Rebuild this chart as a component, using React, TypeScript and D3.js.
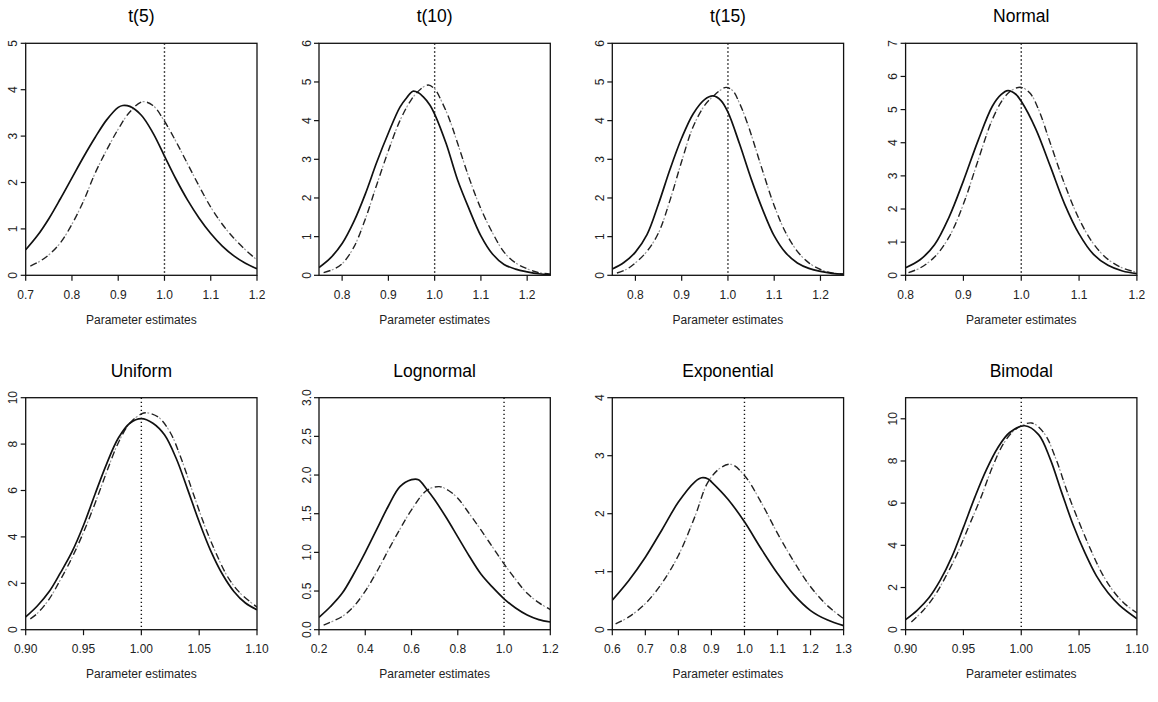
import React from "react";
import * as d3 from "d3";

// ---------- data ----------
const titles = ["t(5)", "t(10)", "t(15)", "Normal", "Uniform", "Lognormal", "Exponential", "Bimodal"];

const xDomains: [number, number][] = [
  [0.7, 1.2], [0.75, 1.25], [0.75, 1.25], [0.8, 1.2],
  [0.9, 1.1], [0.2, 1.2], [0.6, 1.3], [0.9, 1.1],
];
const yDomains: [number, number][] = [
  [0, 5], [0, 6], [0, 6], [0, 7],
  [0, 10], [0, 3], [0, 4], [0, 11],
];
const xTicks: number[][] = [
  [0.7, 0.8, 0.9, 1.0, 1.1, 1.2],
  [0.8, 0.9, 1.0, 1.1, 1.2],
  [0.8, 0.9, 1.0, 1.1, 1.2],
  [0.8, 0.9, 1.0, 1.1, 1.2],
  [0.9, 0.95, 1.0, 1.05, 1.1],
  [0.2, 0.4, 0.6, 0.8, 1.0, 1.2],
  [0.6, 0.7, 0.8, 0.9, 1.0, 1.1, 1.2, 1.3],
  [0.9, 0.95, 1.0, 1.05, 1.1],
];
const xTickFormats = [".1f", ".1f", ".1f", ".1f", ".2f", ".1f", ".1f", ".2f"];
const yTicks: number[][] = [
  [0, 1, 2, 3, 4, 5],
  [0, 1, 2, 3, 4, 5, 6],
  [0, 1, 2, 3, 4, 5, 6],
  [0, 1, 2, 3, 4, 5, 6, 7],
  [0, 2, 4, 6, 8, 10],
  [0, 0.5, 1.0, 1.5, 2.0, 2.5, 3.0],
  [0, 1, 2, 3, 4],
  [0, 2, 4, 6, 8, 10],
];
const yTickFormats = ["d", "d", "d", "d", "d", ".1f", "d", "d"];
const trueValue = 1.0;

const t5Solid: [number, number][] = [[0.70,0.55],[0.725,0.85],[0.75,1.22],[0.775,1.65],[0.80,2.10],[0.825,2.55],[0.85,2.97],[0.875,3.35],[0.90,3.62],[0.91,3.66],[0.925,3.64],[0.95,3.45],[0.975,3.07],[1.00,2.57],[1.025,2.07],[1.05,1.62],[1.075,1.23],[1.10,0.90],[1.125,0.63],[1.15,0.42],[1.175,0.26],[1.20,0.14]];
const t5Dash: [number, number][] = [[0.71,0.20],[0.73,0.30],[0.75,0.44],[0.775,0.70],[0.80,1.10],[0.825,1.60],[0.85,2.20],[0.875,2.70],[0.90,3.15],[0.925,3.52],[0.952,3.74],[0.975,3.66],[1.00,3.32],[1.025,2.88],[1.05,2.40],[1.075,1.92],[1.10,1.47],[1.125,1.10],[1.15,0.80],[1.175,0.55],[1.20,0.33]];

const t10Solid: [number, number][] = [[0.75,0.20],[0.775,0.45],[0.80,0.82],[0.825,1.38],[0.85,2.10],[0.875,2.93],[0.90,3.68],[0.925,4.35],[0.94,4.60],[0.953,4.76],[0.965,4.72],[0.975,4.62],[0.99,4.40],[1.00,4.17],[1.025,3.40],[1.05,2.45],[1.075,1.70],[1.10,1.02],[1.125,0.55],[1.15,0.28],[1.175,0.16],[1.20,0.09],[1.225,0.04],[1.25,0.02]];
const t10Dash: [number, number][] = [[0.76,0.07],[0.78,0.15],[0.80,0.30],[0.825,0.72],[0.85,1.45],[0.875,2.35],[0.90,3.22],[0.925,4.00],[0.95,4.55],[0.97,4.82],[0.986,4.92],[1.00,4.82],[1.015,4.50],[1.033,4.00],[1.05,3.40],[1.075,2.50],[1.10,1.72],[1.125,1.10],[1.15,0.60],[1.175,0.32],[1.20,0.17],[1.225,0.07],[1.25,0.03]];

const t15Solid: [number, number][] = [[0.75,0.16],[0.775,0.33],[0.80,0.60],[0.825,1.05],[0.85,1.85],[0.875,2.75],[0.90,3.55],[0.925,4.18],[0.95,4.55],[0.968,4.64],[0.985,4.52],[1.00,4.22],[1.025,3.40],[1.05,2.50],[1.075,1.70],[1.10,1.02],[1.125,0.58],[1.15,0.32],[1.175,0.18],[1.20,0.10],[1.225,0.05],[1.25,0.03]];
const t15Dash: [number, number][] = [[0.76,0.06],[0.78,0.15],[0.80,0.32],[0.825,0.62],[0.85,1.10],[0.875,1.95],[0.90,2.95],[0.925,3.85],[0.95,4.40],[0.97,4.65],[0.985,4.80],[0.996,4.86],[1.01,4.78],[1.025,4.45],[1.04,4.00],[1.05,3.65],[1.075,2.70],[1.10,1.80],[1.125,1.10],[1.15,0.62],[1.175,0.32],[1.20,0.15],[1.225,0.06],[1.25,0.03]];

const normSolid: [number, number][] = [[0.80,0.23],[0.825,0.47],[0.85,0.92],[0.875,1.75],[0.90,2.85],[0.925,4.05],[0.95,5.10],[0.965,5.45],[0.977,5.57],[0.99,5.47],[1.00,5.25],[1.025,4.42],[1.05,3.30],[1.075,2.15],[1.10,1.25],[1.125,0.63],[1.15,0.30],[1.175,0.13],[1.20,0.05]];
const normDash: [number, number][] = [[0.805,0.08],[0.825,0.22],[0.85,0.55],[0.875,1.15],[0.90,2.15],[0.925,3.45],[0.95,4.70],[0.97,5.35],[0.985,5.60],[1.00,5.67],[1.015,5.50],[1.03,5.00],[1.05,4.00],[1.075,2.75],[1.10,1.70],[1.125,0.95],[1.15,0.48],[1.175,0.22],[1.20,0.09]];

const unifSolid: [number, number][] = [[0.90,0.55],[0.91,1.02],[0.92,1.62],[0.93,2.45],[0.94,3.35],[0.95,4.50],[0.96,5.85],[0.97,7.15],[0.98,8.25],[0.99,8.90],[1.00,9.10],[1.01,8.90],[1.02,8.40],[1.03,7.40],[1.04,6.05],[1.05,4.65],[1.06,3.40],[1.07,2.40],[1.08,1.65],[1.09,1.15],[1.10,0.86]];
const unifDash: [number, number][] = [[0.904,0.47],[0.91,0.70],[0.92,1.30],[0.93,2.15],[0.94,3.10],[0.95,4.20],[0.96,5.45],[0.97,6.80],[0.98,8.05],[0.99,8.90],[1.00,9.30],[1.005,9.35],[1.015,9.15],[1.025,8.50],[1.035,7.30],[1.045,5.85],[1.055,4.45],[1.065,3.25],[1.075,2.25],[1.085,1.60],[1.10,0.97]];

const lognSolid: [number, number][] = [[0.20,0.16],[0.25,0.30],[0.30,0.47],[0.35,0.72],[0.40,1.00],[0.45,1.30],[0.50,1.60],[0.55,1.85],[0.60,1.94],[0.63,1.94],[0.665,1.82],[0.70,1.68],[0.75,1.45],[0.80,1.20],[0.85,0.95],[0.90,0.72],[0.95,0.55],[1.00,0.40],[1.05,0.28],[1.10,0.19],[1.15,0.13],[1.20,0.10]];
const lognDash: [number, number][] = [[0.22,0.06],[0.30,0.17],[0.35,0.30],[0.40,0.50],[0.45,0.75],[0.50,1.03],[0.55,1.30],[0.60,1.55],[0.665,1.80],[0.72,1.85],[0.76,1.80],[0.80,1.70],[0.85,1.50],[0.90,1.29],[0.95,1.07],[1.00,0.85],[1.05,0.65],[1.10,0.47],[1.15,0.35],[1.20,0.26]];

const expoSolid: [number, number][] = [[0.60,0.51],[0.65,0.85],[0.70,1.25],[0.75,1.72],[0.80,2.20],[0.85,2.55],[0.87,2.62],[0.89,2.60],[0.90,2.55],[0.95,2.25],[1.00,1.86],[1.05,1.40],[1.10,0.97],[1.15,0.60],[1.20,0.33],[1.25,0.17],[1.30,0.07]];
const expoDash: [number, number][] = [[0.61,0.10],[0.65,0.22],[0.70,0.45],[0.75,0.80],[0.80,1.28],[0.85,1.95],[0.89,2.55],[0.93,2.80],[0.96,2.85],[1.00,2.66],[1.05,2.20],[1.10,1.66],[1.15,1.17],[1.20,0.74],[1.25,0.42],[1.30,0.19]];

const bimoSolid: [number, number][] = [[0.90,0.48],[0.91,0.92],[0.92,1.50],[0.93,2.35],[0.94,3.45],[0.95,4.85],[0.96,6.30],[0.97,7.60],[0.98,8.65],[0.99,9.35],[1.003,9.67],[1.015,9.25],[1.025,8.10],[1.035,6.50],[1.045,4.95],[1.055,3.65],[1.065,2.55],[1.075,1.75],[1.085,1.15],[1.10,0.52]];
const bimoDash: [number, number][] = [[0.905,0.36],[0.915,0.90],[0.925,1.60],[0.935,2.55],[0.945,3.65],[0.955,4.95],[0.965,6.25],[0.975,7.70],[0.985,8.85],[0.995,9.50],[1.009,9.80],[1.02,9.30],[1.03,8.10],[1.04,6.50],[1.05,5.10],[1.06,3.80],[1.07,2.65],[1.08,1.80],[1.09,1.20],[1.10,0.80]];

const solidSeries = [t5Solid, t10Solid, t15Solid, normSolid, unifSolid, lognSolid, expoSolid, bimoSolid];
const dashSeries = [t5Dash, t10Dash, t15Dash, normDash, unifDash, lognDash, expoDash, bimoDash];

// ---------- layout ----------
const W = 1158;
const H = 702;
const left0 = 25.7;
const pitchX = 293.3;
const boxW = 231.3;
const rowTops = [43.3, 397.7];
const boxH = 232;
const FONT = "'Liberation Sans', Arial, Helvetica, sans-serif";

function Panel({ i }: { i: number }) {
  const col = i % 4;
  const row = Math.floor(i / 4);
  const x0 = left0 + col * pitchX;
  const y0 = rowTops[row];
  const x = d3.scaleLinear().domain(xDomains[i]).range([x0, x0 + boxW]);
  const y = d3.scaleLinear().domain(yDomains[i]).range([y0 + boxH, y0]);
  const line = d3
    .line<[number, number]>()
    .x((d) => x(d[0]))
    .y((d) => y(d[1]))
    .curve(d3.curveCatmullRom.alpha(0.5));
  const fx = d3.format(xTickFormats[i]);
  const fy = d3.format(yTickFormats[i]);
  const clipId = `clip-${i}`;
  const solidD = line(solidSeries[i]) || "";
  const dashD = line(dashSeries[i]) || "";
  const cx = x0 + boxW / 2;
  return (
    <g>
      <defs>
        <clipPath id={clipId}>
          <rect x={x0} y={y0} width={boxW} height={boxH} />
        </clipPath>
      </defs>
      <text x={cx} y={y0 - 21} textAnchor="middle" fontFamily={FONT} fontSize={17.5} fill="#000">
        {titles[i]}
      </text>
      <g clipPath={`url(#${clipId})`}>
        <line
          x1={x(trueValue)}
          x2={x(trueValue)}
          y1={y0}
          y2={y0 + boxH}
          stroke="#111"
          strokeWidth={1.4}
          strokeDasharray="1.4,2.6"
        />
        <path d={dashD} fill="none" stroke="#9a9a9a" strokeWidth={1.2} strokeDasharray="0,8.5,2,2.5" />
        <path d={dashD} fill="none" stroke="#222" strokeWidth={1.4} strokeDasharray="7,6" />
        <path d={solidD} fill="none" stroke="#111" strokeWidth={1.7} />
      </g>
      <rect x={x0} y={y0} width={boxW} height={boxH} fill="none" stroke="#111" strokeWidth={1.3} />
      {xTicks[i].map((t) => (
        <g key={`x${t}`}>
          <line x1={x(t)} x2={x(t)} y1={y0 + boxH} y2={y0 + boxH + 5.5} stroke="#111" strokeWidth={1.2} />
          <text x={x(t)} y={y0 + boxH + 23.5} textAnchor="middle" fontFamily={FONT} fontSize={12} fill="#222">
            {fx(t)}
          </text>
        </g>
      ))}
      {yTicks[i].map((t) => (
        <g key={`y${t}`}>
          <line x1={x0 - 5} x2={x0} y1={y(t)} y2={y(t)} stroke="#111" strokeWidth={1.2} />
          <text
            transform={`translate(${x0 - 8.5},${y(t)}) rotate(-90)`}
            textAnchor="middle"
            fontFamily={FONT}
            fontSize={12}
            fill="#222"
          >
            {fy(t)}
          </text>
        </g>
      ))}
      <text x={cx} y={y0 + boxH + 48.5} textAnchor="middle" fontFamily={FONT} fontSize={12} fill="#222">
        Parameter estimates
      </text>
    </g>
  );
}

export default function App() {
  return (
    <svg
      width={W}
      height={H}
      viewBox={`0 0 ${W} ${H}`}
      style={{ position: "absolute", left: 0, top: 0, background: "#fff" }}
    >
      <rect x={0} y={0} width={W} height={H} fill="#fff" />
      {titles.map((_, i) => (
        <Panel key={i} i={i} />
      ))}
    </svg>
  );
}
